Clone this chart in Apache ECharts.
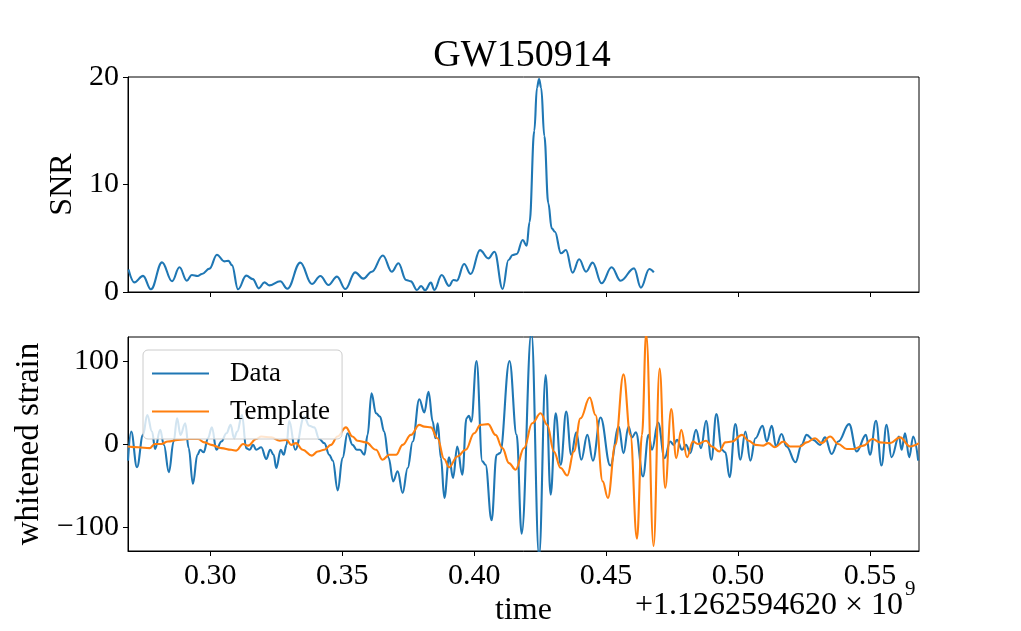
<!DOCTYPE html>
<html>
<head>
<meta charset="utf-8">
<script src="https://cdn.jsdelivr.net/npm/echarts@6/dist/echarts.min.js"></script>
<style>html,body{margin:0;padding:0;background:#fff;}#c{width:1021px;height:631px;}</style>
</head>
<body>
<div id="c"></div>
<script>
// ---------- data ----------
const xTicks = [0.30, 0.35, 0.40, 0.45, 0.50, 0.55];
const snrTicks = [0, 10, 20];
const strainTicks = [-100, 0, 100];

const snrT = [0.2690,0.2712,0.2745,0.2775,0.2817,0.2855,0.2883,0.2911,0.2930,0.2952,0.2968,0.2997,0.3025,0.3053,0.3069,0.3082,0.3105,0.3136,0.3161,0.3184,0.3205,0.3223,0.3265,0.3292,0.3341,0.3385,0.3417,0.3448,0.3480,0.3512,0.3549,0.3580,0.3612,0.3654,0.3688,0.3713,0.3742,0.3760,0.3783,0.3799,0.3814,0.3836,0.3849,0.3877,0.3905,0.3921,0.3934,0.3962,0.3987,0.4022,0.4054,0.4077,0.4108,0.4130,0.4146,0.4161,0.4184,0.4199,0.4210,0.4228,0.4238,0.4246,0.4254,0.4266,0.4281,0.4294,0.4306,0.4329,0.4348,0.4373,0.4398,0.4424,0.4449,0.4483,0.4521,0.4555,0.4606,0.4632,0.4664,0.4681];
const snrV = [2.1,0.9,1.5,0.25,2.76,1.0,2.3,1.05,1.58,1.49,1.67,2.17,3.47,2.85,2.9,2.5,0.25,1.52,1.2,0.34,0.9,0.62,1.0,0.3,2.73,0.74,1.49,0.65,1.43,0.28,1.83,1.24,1.89,3.4,1.89,2.67,1.12,0.99,0.19,0.56,0.16,0.87,0.19,1.58,0.56,1.12,1.05,2.6,1.67,3.9,3.13,3.75,0.28,2.98,3.44,3.53,4.84,4.31,6.5,15.0,19.0,19.81,19.0,14.5,8.25,5.92,5.61,3.6,3.9,1.8,3.04,1.89,2.73,0.81,2.3,1.05,2.2,0.4,2.14,1.83];

const dataT = [0.2688,0.2700,0.2722,0.2745,0.2761,0.2779,0.2791,0.2810,0.2824,0.2843,0.2861,0.2874,0.2887,0.2905,0.2918,0.2934,0.2951,0.2962,0.2975,0.2991,0.3006,0.3023,0.3042,0.3061,0.3077,0.3090,0.3102,0.3120,0.3136,0.3149,0.3162,0.3174,0.3193,0.3212,0.3227,0.3240,0.3250,0.3267,0.3278,0.3289,
0.3299,0.3322,0.3356,0.3375,0.3394,0.3413,0.3432,0.3451,0.3464,0.3483,0.3501,0.3520,0.3539,0.3555,0.3567,0.3584,0.3596,0.3611,0.3628,0.3643,0.3659,0.3676,0.3693,0.3710,0.3729,0.3748,0.3767,0.3792,0.3811,0.3827,0.3843,0.3853,0.3862,0.3874,0.3887,
0.3905,0.3920,0.3936,0.3955,0.3971,0.3980,0.3989,0.4009,0.4031,0.4043,0.4066,0.4085,0.4098,0.4134,0.4161,0.4180,0.4217,0.4246,0.4271,0.4290,0.4309,0.4328,0.4349,0.4368,0.4387,0.4406,0.4429,0.4450,0.4479,
0.4516,0.4548,0.4566,0.4585,0.4598,0.4613,0.4640,0.4661,0.4674,0.4697,0.4722,0.4743,0.4756,0.4769,0.4788,0.4803,0.4819,0.4841,0.4860,0.4879,0.4899,0.4918,0.4939,0.4952,0.4968,0.4990,0.5009,0.5028,0.5047,0.5066,
0.5093,0.5109,0.5128,0.5144,0.5165,0.5184,0.5218,0.5241,0.5260,0.5285,0.5311,0.5330,0.5355,0.5380,0.5421,0.5450,0.5485,0.5500,0.5523,0.5544,0.5563,0.5582,0.5610,0.5620,0.5633,0.5649,0.5664,0.5683];
const dataV = [-20,15,-28,11,35,15,-6,17,-1,-34,3,31,11,25,-5,-48,-13,-7,-10,7,20,-7,3,13,23,7,15,35,-5,-7,-1,-7,-4,-18,-7,-13,-29,-7,-13,-1,
28,-7,33,22,20,6,1,-13,-20,-56,-17,13,-1,-7,-7,-13,11,61,37,33,15,-17,-45,-33,-59,-29,3,54,38,63,27,7,25,-17,-65,
-16,-41,-3,-37,31,34,27,100,-21,-25,-92,-13,-11,100,11,-108,135,-135,83,-61,37,-25,39,-13,14,-19,11,-20,32,
-26,21,-11,21,8,14,-39,11,-7,26,-17,3,-1,5,-7,-1,-11,17,-5,28,-19,36,-7,-10,-40,24,-19,15,-20,7,
22,3,22,-3,12,-3,-22,-1,11,5,-1,8,-12,3,24,-9,11,-13,28,-26,23,-16,9,-7,13,-16,9,-20];

const templateT = [0.2688,0.2726,0.2770,0.2789,0.2814,0.2839,0.2877,0.2915,0.2953,0.2978,0.3004,0.3042,0.3079,0.3098,0.3124,0.3143,0.3174,0.3193,0.3231,0.3263,0.3289,0.3306,0.3325,0.3350,0.3385,0.3407,0.3432,0.3457,0.3482,0.3514,0.3539,0.3558,0.3590,0.3628,0.3653,0.3678,0.3704,0.3729,0.3760,0.3792,0.3811,0.3836,0.3861,0.3886,0.3905,0.3936,0.3968,0.4000,0.4024,0.4053,0.4081,0.4107,0.4132,0.4157,0.4189,0.4220,0.4252,0.4277,0.4302,0.4328,0.4353,0.4378,0.4403,0.4438,0.4460,0.4487,0.4507,0.4535,0.4566,0.4592,0.4617,0.4636,0.4652,0.4680,0.4703,0.4724,0.4747,0.4766,0.4785,0.4807,0.4829,0.4848,0.4879,0.4901,0.4929,0.4952,0.4977,0.5015,0.5040,0.5066,0.5096,0.5115,0.5140,0.5172,0.5197,0.5235,0.5260,0.5292,0.5317,0.5349,0.5380,0.5412,0.5437,0.5475,0.5510,0.5538,0.5576,0.5614,0.5652,0.5686];
const templateV = [-3,-4,-5,0,0,3,5,6,6,2,-1,-5,-7,-8,0,-2,6,9,8,4,5,-1,1,-7,-14,-9,-7,-1,9,20,9,4,2,-7,-19,-13,-13,-1,11,23,21,20,7,-18,-28,-15,-7,13,23,24,11,-5,-23,-31,-5,25,37,23,-9,-29,-38,-9,31,56,35,-45,-65,-1,84,11,-114,11,133,-123,91,-53,42,-17,17,-16,3,0,4,-3,-9,2,3,11,4,-1,-2,1,-4,3,-3,-3,2,7,1,9,0,-6,-6,-2,6,2,1,8,-3,1];

const offsetText = '+1.1262594620 \u00d7 10';
const offsetExp = '9';
// ---------- chart ----------
const zip = (a, b) => a.map((x, i) => [x, b[i]]);
const FONT = 'Liberation Serif';
const fmtMinus = v => String(v).replace('-', '\u2212');

const baseX = (grid, labels) => ({
  type: 'value', gridIndex: grid, min: 0.2688, max: 0.5686,
  splitLine: {show: false},
  axisLine: {show: true, onZero: false, lineStyle: {color: '#000', width: 1}},
  axisTick: {show: true, length: 5, lineStyle: {color: '#000', width: 1}, customValues: xTicks},
  axisLabel: {show: labels, customValues: xTicks, formatter: v => v.toFixed(2), color: '#000', fontFamily: FONT, fontSize: 30, margin: 10}
});

const chart = echarts.init(document.getElementById('c'), null, {renderer: 'canvas'});
chart.setOption({
  animation: false,
  backgroundColor: '#fff',
  grid: [
    {left: 128, right: 102, top: 77, height: 215, show: true, borderColor: '#000', borderWidth: 1},
    {left: 128, right: 102, top: 337, height: 214, show: true, borderColor: '#000', borderWidth: 1}
  ],
  xAxis: [
    baseX(0, false),
    Object.assign(baseX(1, true), {name: 'time', nameLocation: 'middle', nameGap: 44,
      nameTextStyle: {color: '#000', fontFamily: FONT, fontSize: 32}})
  ],
  yAxis: [
    {type: 'value', gridIndex: 0, min: 0, max: 20, splitLine: {show: false},
     name: 'SNR', nameLocation: 'middle', nameGap: 48, nameRotate: 90,
     nameTextStyle: {color: '#000', fontFamily: FONT, fontSize: 32},
     axisLine: {show: true, lineStyle: {color: '#000'}},
     axisTick: {show: true, length: 5, lineStyle: {color: '#000'}, customValues: snrTicks},
     axisLabel: {customValues: snrTicks, color: '#000', fontFamily: FONT, fontSize: 30, margin: 9}},
    {type: 'value', gridIndex: 1, min: -129, max: 129, splitLine: {show: false},
     name: 'whitened strain', nameLocation: 'middle', nameGap: 73, nameRotate: 90,
     nameTextStyle: {color: '#000', fontFamily: FONT, fontSize: 33},
     axisLine: {show: true, onZero: false, lineStyle: {color: '#000'}},
     axisTick: {show: true, length: 5, lineStyle: {color: '#000'}, customValues: strainTicks},
     axisLabel: {customValues: strainTicks, formatter: fmtMinus, color: '#000', fontFamily: FONT, fontSize: 30, margin: 9}}
  ],
  legend: {
    data: ['Data', 'Template'], orient: 'vertical', left: 143, top: 350,
    icon: 'rect', itemWidth: 57, itemHeight: 2, itemGap: 11,
    padding: [10, 12, 14, 9],
    backgroundColor: 'rgba(255,255,255,0.8)', borderColor: '#cccccc', borderWidth: 1, borderRadius: 5,
    textStyle: {color: '#000', fontFamily: FONT, fontSize: 27, lineHeight: 26, padding: [0, 0, 0, 16]}
  },
  graphic: [
    {type: 'text', style: {text: 'GW150914', x: 522, y: 56, textAlign: 'center', textVerticalAlign: 'middle', fill: '#000', font: '38px "Liberation Serif"'}},
    {type: 'text', style: {text: offsetText, x: 903, y: 606, textAlign: 'right', textVerticalAlign: 'middle', fill: '#000', font: '32px "Liberation Serif"'}},
    {type: 'text', style: {text: offsetExp, x: 905, y: 589, textAlign: 'left', textVerticalAlign: 'middle', fill: '#000', font: '21px "Liberation Serif"'}}
  ],
  series: [
    {name: 'SNR', type: 'line', xAxisIndex: 0, yAxisIndex: 0, data: zip(snrT, snrV), showSymbol: false, symbol: 'none',
     smooth: 0.4, smoothMonotone: 'x', lineStyle: {color: '#1f77b4', width: 2.1}, itemStyle: {color: '#1f77b4'}},
    {name: 'Data', type: 'line', xAxisIndex: 1, yAxisIndex: 1, data: zip(dataT, dataV), showSymbol: false, symbol: 'none',
     smooth: 0.4, smoothMonotone: 'x', lineStyle: {color: '#1f77b4', width: 2.1}, itemStyle: {color: '#1f77b4'}},
    {name: 'Template', type: 'line', xAxisIndex: 1, yAxisIndex: 1, data: zip(templateT, templateV), showSymbol: false, symbol: 'none',
     smooth: 0.4, smoothMonotone: 'x', lineStyle: {color: '#ff7f0e', width: 2.1}, itemStyle: {color: '#ff7f0e'}}
  ]
});
</script>
</body>
</html>
